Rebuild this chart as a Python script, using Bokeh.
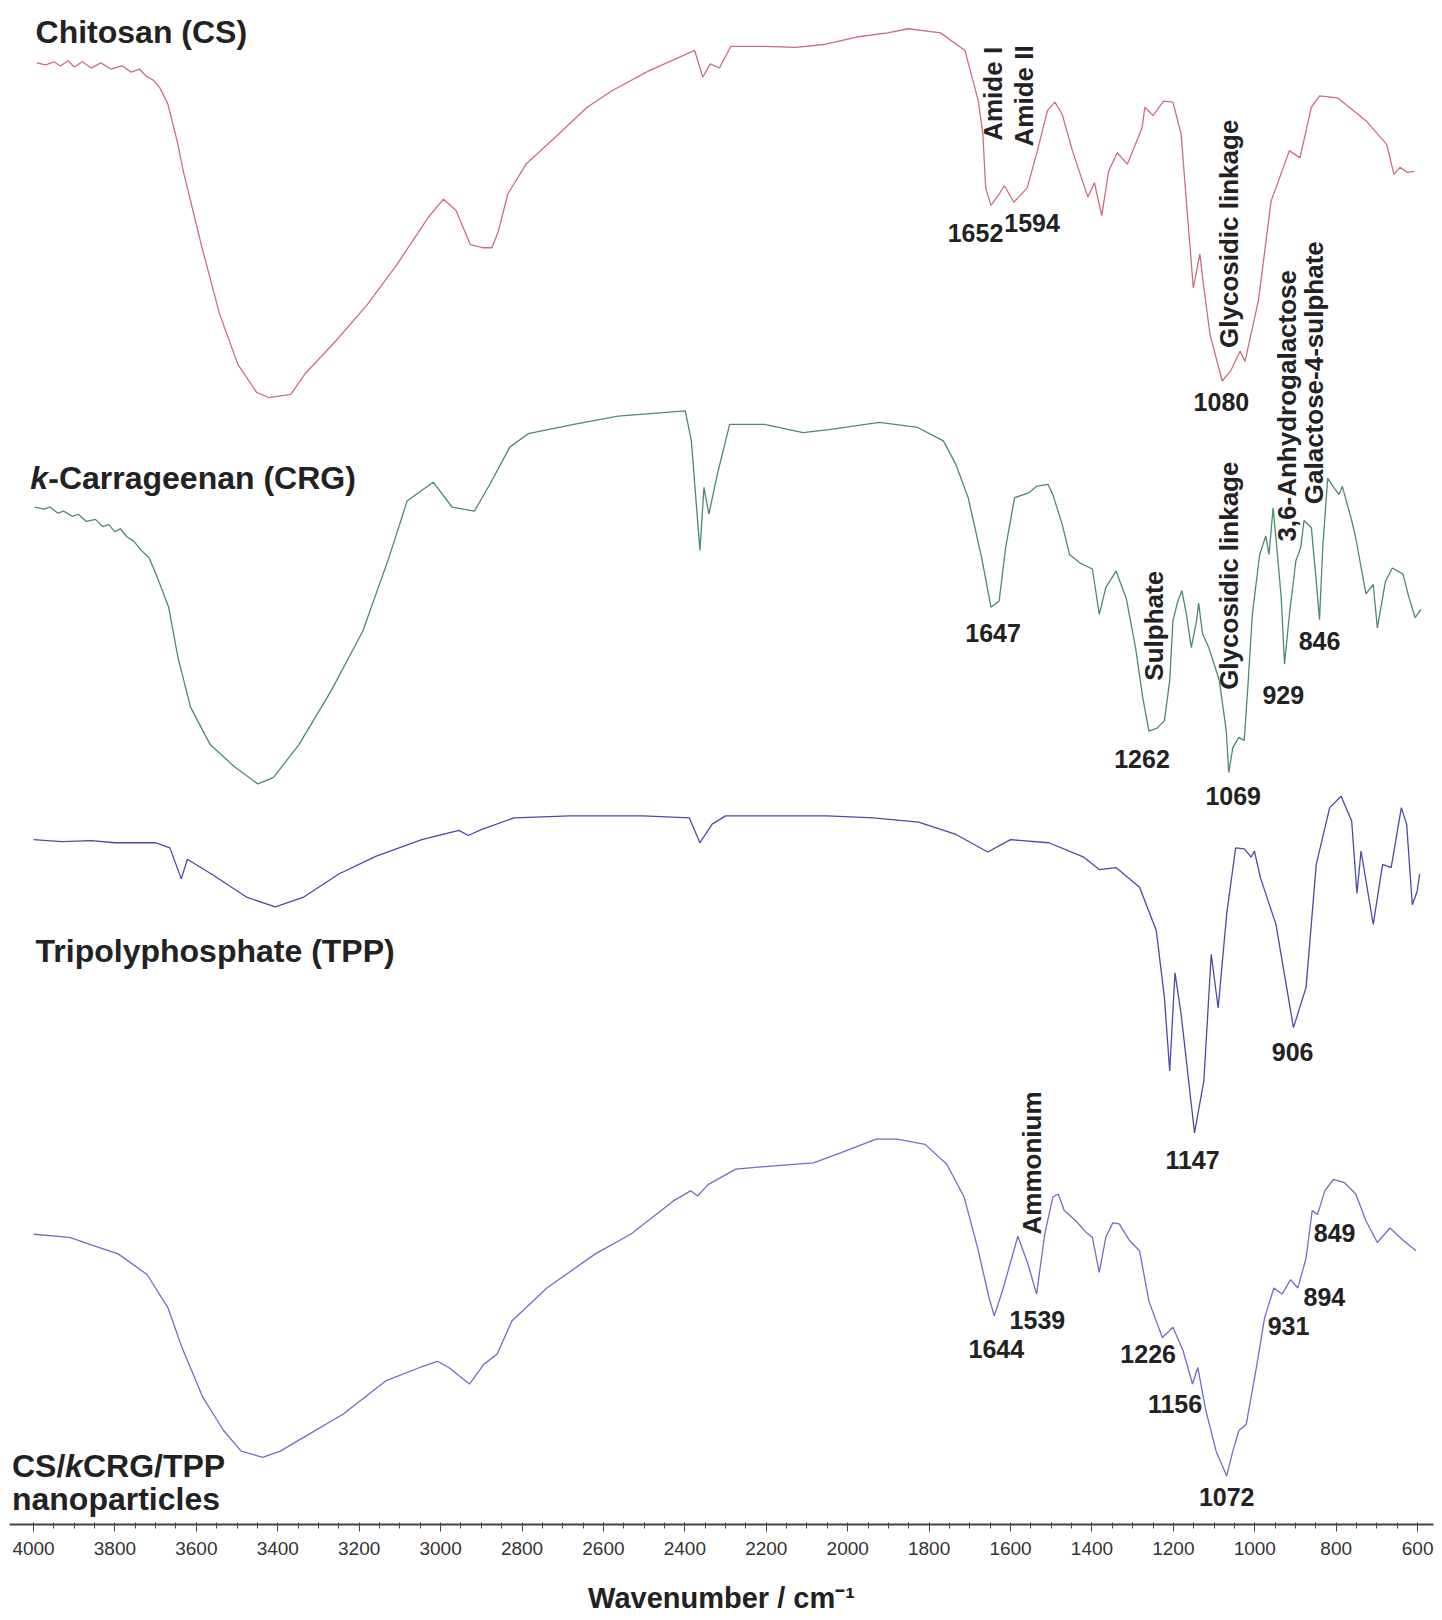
from bokeh.plotting import figure
from bokeh.models import Range1d, FixedTicker
from bokeh.embed import file_html
from bokeh.resources import INLINE
from bokeh.core.properties import value
import math

# ---------------- data (wavenumber / cm-1, offset transmittance a.u.) ----------------
cs_wn = [3992, 3970, 3950, 3934, 3915, 3900, 3880, 3858, 3835, 3810, 3782, 3760, 3740, 3723, 3705,
         3690, 3670, 3647, 3632, 3586, 3543, 3498, 3452, 3422, 3368, 3333, 3257, 3180, 3107, 3031,
         2993, 2962, 2927, 2896, 2874, 2858, 2835, 2790, 2729, 2640, 2579, 2490, 2399, 2376, 2356,
         2338, 2315, 2287, 2204, 2128, 2054, 1978, 1902, 1851, 1772, 1712, 1679, 1668, 1661, 1648,
         1628, 1615, 1592, 1559, 1534, 1509, 1491, 1473, 1448, 1410, 1394, 1376, 1359, 1338, 1313,
         1277, 1270, 1250, 1224, 1201, 1181, 1168, 1151, 1135, 1125, 1110, 1080, 1059, 1036, 1024,
         991, 960, 915, 889, 861, 841, 796, 727, 676, 658, 643, 626, 608]
cs_t = [1415, 1413, 1416, 1412, 1417, 1411, 1416, 1410, 1415, 1409, 1412, 1406, 1409, 1402, 1398,
        1391, 1375, 1339, 1310, 1236, 1172, 1123, 1096, 1091, 1094, 1114, 1146, 1181, 1220, 1265,
        1283, 1272, 1239, 1236, 1236, 1252, 1288, 1317, 1339, 1372, 1388, 1407, 1423, 1427, 1401,
        1414, 1410, 1431, 1431, 1430, 1433, 1440, 1444, 1448, 1444, 1427, 1378, 1346, 1294, 1277,
        1288, 1296, 1280, 1294, 1330, 1369, 1377, 1365, 1330, 1285, 1299, 1267, 1310, 1328, 1317,
        1352, 1372, 1364, 1378, 1377, 1346, 1281, 1197, 1230, 1197, 1152, 1107, 1117, 1136, 1126,
        1185, 1281, 1330, 1323, 1372, 1383, 1381, 1359, 1336, 1307, 1314, 1309, 1310]

crg_wn = [3997, 3975, 3960, 3940, 3926, 3905, 3890, 3870, 3848, 3830, 3815, 3800, 3787, 3770, 3754,
          3735, 3716, 3693, 3668, 3645, 3614, 3566, 3505,
          3449, 3411, 3348, 3269, 3191, 3127, 3082, 3018, 2972, 2917, 2879, 2830, 2785, 2673, 2564,
          2399, 2384, 2363, 2353, 2341, 2320, 2290, 2204, 2110, 2046, 1922, 1828, 1765, 1734, 1704,
          1671, 1648, 1628, 1612, 1590, 1554, 1536, 1508, 1496, 1473, 1455, 1430, 1399, 1382, 1366,
          1341, 1316, 1293, 1275, 1260, 1240, 1222, 1209, 1201, 1189, 1179, 1168, 1156, 1143, 1138,
          1128, 1113, 1087, 1070, 1064, 1054, 1039, 1026, 1016, 1006, 988, 973, 965, 955, 948, 935,
          927, 915, 899, 887, 879, 861, 849, 841, 833, 821, 806, 793, 785, 762, 752, 727, 709, 699,
          679, 662, 636, 621, 606, 592]
crg_t = [985, 983, 985, 979, 981, 976, 978, 971, 973, 966, 968, 961, 964, 956, 952,
         943, 936, 914, 888, 839, 791, 755, 733,
         717, 723, 755, 807, 865, 936, 991, 1009, 985, 981, 1007, 1043, 1056, 1065, 1073,
         1078, 1049, 943, 1004, 978, 1017, 1065, 1065, 1057, 1060, 1067, 1062, 1049, 1026, 994,
         936, 888, 894, 946, 994, 999, 1005, 1007, 997, 968, 939, 931, 925, 881, 907,
         923, 897, 849, 800, 768, 771, 778, 817, 875, 894, 904, 881, 849, 875, 892,
         862, 849, 817, 768, 728, 752, 762, 759, 817, 881, 939, 957, 939, 984, 955, 897,
         833, 881, 933, 946, 972, 965, 913, 876, 946, 1013, 1004, 997, 1005, 972, 955, 901, 910, 868,
         913, 926, 920, 897, 878, 886]

tpp_wn = [4000, 3930, 3858, 3800, 3767, 3701, 3665, 3637, 3622, 3564, 3475, 3406, 3338, 3249, 3158,
          3046, 2955, 2932, 2899, 2820, 2683, 2503, 2389, 2363, 2333, 2300, 2051, 1937, 1826, 1734,
          1656, 1600, 1506, 1420, 1382, 1341, 1283, 1242, 1222, 1209, 1196, 1181, 1148, 1125, 1107,
          1090, 1069, 1047, 1026, 1009, 1001, 986, 948, 905, 874, 849, 816, 788, 762, 749, 739, 709,
          686, 665, 640, 627, 613, 601, 595]
tpp_t = [663, 661, 662, 660, 660, 660, 655, 625, 644, 630, 607, 598, 607, 630, 647,
         663, 672, 667, 673, 684, 686, 686, 684, 660, 678, 686, 686, 684, 680, 668,
         651, 663, 660, 646, 634, 636, 617, 575, 510, 439, 534, 494, 379, 430, 552,
         500, 591, 655, 654, 646, 652, 626, 581, 481, 520, 639, 694, 705, 681, 611, 652, 581,
         639, 636, 694, 678, 600, 613, 630]

np_wn = [4000, 3911, 3860, 3792, 3721, 3670, 3635, 3584, 3533, 3490, 3437, 3394, 3325, 3239, 3135,
         3051, 3008, 2980, 2929, 2894, 2861, 2825, 2739, 2620, 2533, 2429, 2386, 2369, 2343, 2275,
         2188, 2084, 2016, 1930, 1879, 1810, 1757, 1714, 1681, 1653, 1640, 1620, 1582, 1557, 1536,
         1516, 1496, 1483, 1468, 1440, 1415, 1399, 1382, 1366, 1349, 1333, 1308, 1283, 1260, 1227,
         1201, 1176, 1153, 1140, 1120, 1095, 1069, 1054, 1039, 1021, 996, 976, 953, 933, 912, 894,
         874, 859, 846, 828, 807, 780, 752, 727, 699, 668, 635, 604]
np_t = [281, 278, 271, 262, 242, 210, 171, 123, 91, 71, 65, 71, 87, 107, 139,
        152, 158, 152, 136, 155, 165, 197, 229, 262, 281, 313, 323, 318, 329, 344,
        347, 350, 360, 373, 373, 368, 349, 317, 268, 220, 202, 226, 279, 252, 223,
        281, 317, 320, 304, 294, 283, 278, 244, 278, 292, 291, 275, 265, 216, 181,
        191, 168, 136, 152, 110, 71, 47, 71, 91, 97, 152, 200, 229, 223, 237, 229,
        258, 304, 300, 323, 334, 331, 320, 294, 273, 287, 275, 265]

# peak labels
peak_text = ["1652", "1594", "1080", "1647", "1262", "1069", "929", "846", "906", "1147",
             "1644", "1539", "1226", "1156", "1072", "931", "894", "849"]
peak_wn = [1686, 1547, 1082, 1643, 1277, 1053, 930, 841, 907, 1153,
           1635, 1534, 1262, 1196, 1069, 917, 829, 804]
peak_t = [1250, 1260, 1087, 863, 741, 705, 803, 855, 457, 353,
          170, 198, 165, 117, 27, 192, 220, 282]

# vertical band assignments
band_text = ["Amide I", "Amide II", "Glycosidic  linkage", "3,6-Anhydrogalactose",
             "Galactose-4-sulphate", "Sulphate", "Glycosidic  linkage", "Ammonium"]
band_wn = [1643, 1567, 1064, 920, 854, 1247, 1064, 1547]
band_t = [1385, 1383, 1253, 1083, 1115, 870, 922, 350]

# sample names (pieces, italic k separate)
name_text = ["Chitosan (CS)", "-Carrageenan (CRG)", "Tripolyphosphate (TPP)", "CS/", "CRG/TPP", "nanoparticles"]
name_wn = [3995, 4008, 3995, 4053, 4053, 4053]
name_t = [1445, 1013, 555, 57, 57, 25]
name_dx = [0, 18, 0, 0, 71, 0]
ital_text = ["k", "k"]
ital_wn = [4008, 4053]
ital_t = [1013, 57]
ital_dx = [0, 53]

ticks_major = list(range(600, 4001, 200))
ticks_minor = list(range(600, 4001, 50))

colors = {"cs": "#c8707a", "crg": "#4b8a70", "tpp": "#4a4aa8", "np": "#7868cc"}

# ---------------- figure ----------------
p = figure(width=1440, height=1618, output_backend="svg", toolbar_location=None,
           x_range=Range1d(4059, 561), y_range=Range1d(0, 1467.6),
           y_axis_location=None,
           min_border_left=9, min_border_right=7, min_border_top=8, min_border_bottom=94)
p.grid.visible = False
p.outline_line_color = None
p.background_fill_color = "white"

p.line(cs_wn, cs_t, line_color=colors["cs"], line_width=1.3)
p.line(crg_wn, crg_t, line_color=colors["crg"], line_width=1.3)
p.line(tpp_wn, tpp_t, line_color=colors["tpp"], line_width=1.3)
p.line(np_wn, np_t, line_color=colors["np"], line_width=1.3)

FONT = value("Liberation Sans")

p.text(x=peak_wn, y=peak_t, text=peak_text, text_font=FONT, text_font_size="25px",
       text_font_style="bold", text_color="#222222", text_align="center", text_baseline="middle")

p.text(x=band_wn, y=band_t, text=band_text, angle=math.pi / 2, text_font=FONT,
       text_font_size="26px", text_font_style="bold", text_color="#222222",
       text_align="center", text_baseline="middle")

p.text(x=name_wn, y=name_t, text=name_text, x_offset=name_dx, text_font=FONT,
       text_font_size="32px", text_font_style="bold", text_color="#222222",
       text_align="left", text_baseline="middle")
p.text(x=ital_wn, y=ital_t, text=ital_text, x_offset=ital_dx, text_font=FONT,
       text_font_size="32px", text_font_style="bold italic", text_color="#222222",
       text_align="left", text_baseline="middle")

ax = p.xaxis[0]
ax.ticker = FixedTicker(ticks=ticks_major, minor_ticks=ticks_minor)
ax.axis_line_width = 2
ax.axis_line_color = "#444444"
ax.major_tick_out = 7
ax.major_tick_in = 0
ax.minor_tick_out = 4
ax.minor_tick_in = 2
ax.major_tick_line_color = "#444444"
ax.minor_tick_line_color = "#444444"
ax.major_label_text_font = "Liberation Sans"
ax.major_label_text_font_size = "19px"
ax.major_label_text_color = "#333333"
ax.major_label_standoff = 10
ax.axis_label = "Wavenumber / cm\u207b\u00b9"
ax.axis_label_text_font = "Liberation Sans"
ax.axis_label_text_font_size = "29px"
ax.axis_label_text_font_style = "bold"
ax.axis_label_text_color = "#222222"
ax.axis_label_standoff = 24

open("out.html", "w").write(file_html(p, INLINE))
